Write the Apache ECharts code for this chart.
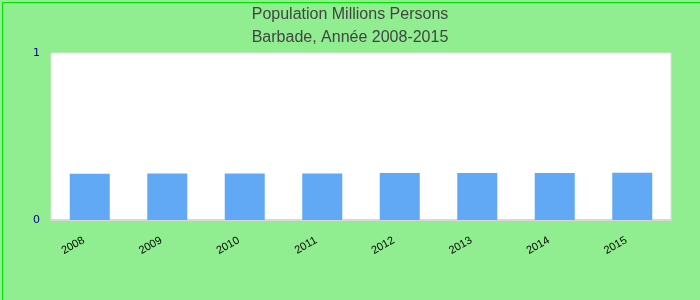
<!DOCTYPE html>
<html><head><meta charset="utf-8">
<script src="https://cdn.jsdelivr.net/npm/echarts@6/dist/echarts.min.js"></script>
<style>html,body{margin:0;padding:0;}#c{width:700px;height:300px;}</style>
</head><body><div id="c"></div>
<script>
const categories = ['2008','2009','2010','2011','2012','2013','2014','2015'];
const population = [0.277, 0.278, 0.278, 0.279, 0.281, 0.282, 0.282, 0.283];
const titleLines = ['Population Millions Persons', 'Barbade, Année 2008-2015'];

const chart = echarts.init(document.getElementById('c'), null, {renderer: 'canvas'});
chart.setOption({
  backgroundColor: '#90EE90',
  animation: false,
  graphic: [{type: 'rect', left: 0, top: 0, shape: {width: 699, height: 299, x: 0.5, y: 0.5}, style: {fill: 'none', stroke: '#00E000', lineWidth: 1}}],
  title: {
    text: titleLines.join('\n'),
    left: 'center', top: -2,
    textStyle: {fontFamily: 'Liberation Sans', fontSize: 16, fontWeight: 'normal', color: '#444444', lineHeight: 23}
  },
  grid: {left: 51, right: 29, top: 53, bottom: 80, show: true, backgroundColor: '#ffffff', borderColor: '#dddddd', borderWidth: 1, containLabel: false},
  xAxis: {
    type: 'category', data: categories,
    axisLine: {show: true, lineStyle: {color: '#d8d8d8', width: 2}},
    axisTick: {show: false},
    axisLabel: {rotate: 30, color: '#000000', fontFamily: 'Liberation Sans', fontSize: 11, margin: 16, padding: [0, 7, 0, 0]}
  },
  yAxis: {
    type: 'value', min: 0, max: 1, interval: 1,
    axisLine: {show: false}, axisTick: {show: false},
    splitLine: {show: false},
    axisLabel: {color: '#00008B', fontFamily: 'DejaVu Sans', fontSize: 11, margin: 11}
  },
  series: [{
    type: 'bar', data: population, barWidth: 40,
    itemStyle: {color: '#62A9F5'}
  }]
});
</script></body></html>
